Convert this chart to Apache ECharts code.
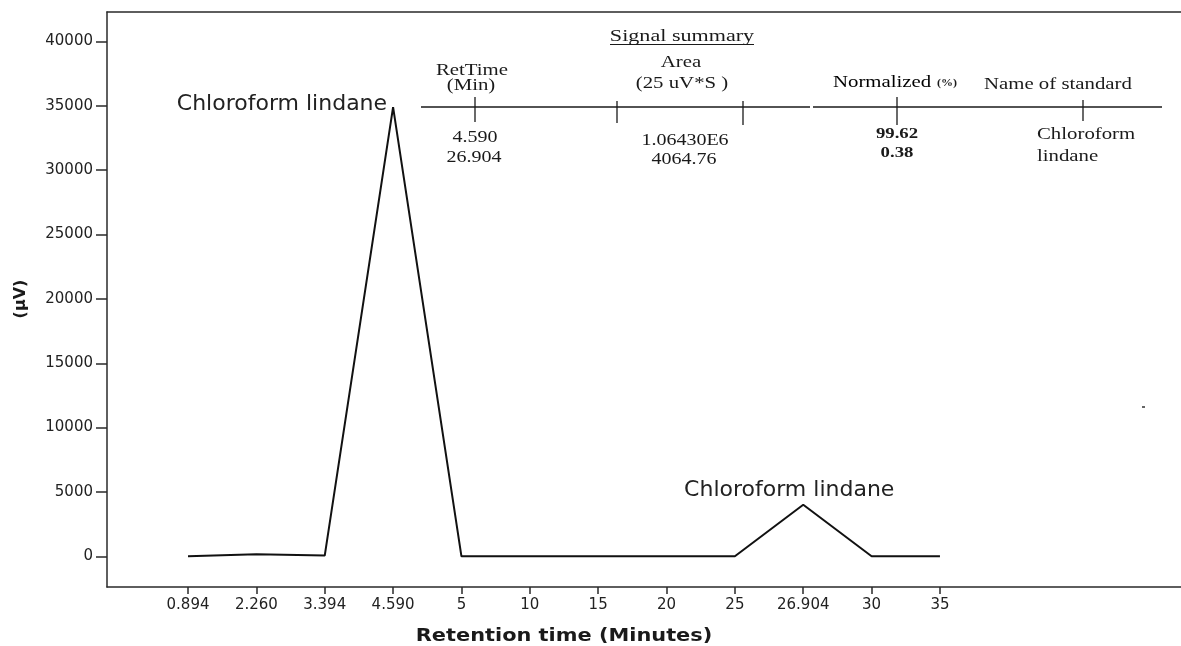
<!DOCTYPE html>
<html>
<head>
    <meta charset="utf-8">
    <title>Signal summary chromatogram</title>
    <script src="https://cdn.jsdelivr.net/npm/echarts@6/dist/echarts.min.js"></script>
    <style>
        html, body { margin: 0; padding: 0; background: #fff; }
        #main { width: 1181px; height: 646px; }
    </style>
</head>
<body>
    <div id="main"></div>
    <script type="text/javascript">
        // retention time categories on the x axis
        var timeLabels = ['0.894', '2.260', '3.394', '4.590', '5', '10', '15', '20', '25', '26.904', '30', '35'];
        // detector signal (uV) at each category
        var signal = [0, 150, 60, 34900, 0, 0, 0, 0, 0, 4000, 0, 0];
        var yTicks = [0, 5000, 10000, 15000, 20000, 25000, 30000, 35000, 40000];
        var peakName = 'Chloroform lindane';
        var peakIdx = [3, 9];

        // signal summary table
        var retTimes = ['4.590', '26.904'];
        var areas = ['1.06430E6', '4064.76'];
        var normalized = ['99.62', '0.38'];
        var standardName = ['Chloroform', 'lindane'];

        var xTicks = timeLabels.map(function (l, i) { return i; });

        var SANS = '"DejaVu Sans", Verdana, sans-serif';
        var SERIF = '"Liberation Serif", "Times New Roman", serif';
        var INK = '#1a1a1a';
        var AXIS = '#2a2a2a';

        function serifText(x, y, str, size, opts) {
            opts = opts || {};
            return {
                type: 'text',
                x: x,
                y: y,
                scaleX: opts.scaleX || 1.3,
                style: {
                    text: str,
                    fontFamily: SERIF,
                    fontSize: size,
                    fontWeight: opts.bold ? 'bold' : 'normal',
                    fill: opts.fill || INK,
                    align: opts.align || 'center',
                    textAlign: opts.align || 'center',
                    verticalAlign: 'middle',
                    textVerticalAlign: 'middle'
                }
            };
        }

        function seg(x1, y1, x2, y2, w) {
            return {
                type: 'line',
                shape: { x1: x1, y1: y1, x2: x2, y2: y2 },
                style: { stroke: INK, lineWidth: w || 1.3 }
            };
        }

        var graphics = [
            // table header
            serifText(682, 37, 'Signal summary', 17),
            seg(610, 44.5, 754, 44.5, 1),
            serifText(472, 71, 'RetTime', 16),
            serifText(471, 86, '(Min)', 16),
            serifText(681, 63, 'Area', 16),
            serifText(682, 84, '(25 uV*S )', 16),
            serifText(833, 83, 'Normalized', 16, { align: 'left', scaleX: 1.3, fill: '#000' }),
            serifText(937, 83, '(%)', 10, { align: 'left', scaleX: 1.2, bold: true }),
            serifText(984, 85, 'Name of standard', 16, { align: 'left', scaleX: 1.3 }),
            // table rules
            seg(421, 107, 810, 107),
            seg(813, 107, 1162, 107),
            seg(475, 97, 475, 122),
            seg(617, 101, 617, 123),
            seg(743, 101, 743, 125),
            seg(897, 97, 897, 125),
            seg(1083, 100, 1083, 121),
            // table body
            serifText(475, 138, retTimes[0], 16, { scaleX: 1.25 }),
            serifText(474, 158, retTimes[1], 16, { scaleX: 1.25 }),
            serifText(685, 141, areas[0], 16, { scaleX: 1.25 }),
            serifText(684, 160, areas[1], 16, { scaleX: 1.25 }),
            serifText(897, 134, normalized[0], 15, { scaleX: 1.25, bold: true }),
            serifText(897, 153, normalized[1], 15, { scaleX: 1.25, bold: true }),
            serifText(1037, 135, standardName[0], 16, { align: 'left', scaleX: 1.3 }),
            serifText(1037, 157, standardName[1], 16, { align: 'left', scaleX: 1.3 }),
            // axis titles
            {
                type: 'text',
                x: 564, y: 636,
                scaleX: 1.16,
                style: {
                    text: 'Retention time (Minutes)',
                    fontFamily: SANS,
                    fontWeight: 'bold',
                    fontSize: 18,
                    fill: INK,
                    align: 'center', textAlign: 'center',
                    verticalAlign: 'middle', textVerticalAlign: 'middle'
                }
            },
            {
                type: 'text',
                x: 21, y: 299,
                rotation: Math.PI / 2,
                style: {
                    text: '(\u00b5V)',
                    fontFamily: SANS,
                    fontWeight: 'bold',
                    fontSize: 16,
                    fill: INK,
                    align: 'center', textAlign: 'center',
                    verticalAlign: 'middle', textVerticalAlign: 'middle'
                }
            },
            // stray speck in the original image
            { type: 'rect', shape: { x: 1142, y: 406, width: 3, height: 2 }, style: { fill: '#666' } }
        ];

        var peakLabels = [
            { position: 'left', distance: 6, offset: [0, -3] },
            { position: 'top', distance: 4, offset: [-14, 0] }
        ];

        var xMin = -1.185, xMax = 14.526;

        var myChart = echarts.init(document.getElementById('main'));

        var option = {
            animation: false,
            backgroundColor: '#fff',
            grid: {
                left: 107,
                top: 12,
                right: 0,
                bottom: 59
            },
            xAxis: [{
                type: 'value',
                min: xMin,
                max: xMax,
                splitLine: { show: false },
                axisLine: { show: true, onZero: false, lineStyle: { color: AXIS, width: 1.5 } },
                axisTick: {
                    show: true,
                    length: 7,
                    customValues: xTicks,
                    lineStyle: { color: AXIS, width: 1.5 }
                },
                axisLabel: {
                    customValues: xTicks,
                    margin: 11,
                    fontFamily: SANS,
                    fontSize: 15,
                    color: '#222',
                    formatter: function (v) { return timeLabels[Math.round(v)]; }
                }
            }, {
                // top frame line only
                type: 'value',
                position: 'top',
                min: xMin,
                max: xMax,
                splitLine: { show: false },
                axisLine: { show: true, onZero: false, lineStyle: { color: AXIS, width: 1.5 } },
                axisTick: { show: false },
                axisLabel: { show: false }
            }],
            yAxis: {
                type: 'value',
                min: -2385,
                max: 42292,
                splitLine: { show: false },
                axisLine: { show: true, onZero: false, lineStyle: { color: AXIS, width: 1.5 } },
                axisTick: {
                    show: true,
                    length: 11,
                    customValues: yTicks,
                    lineStyle: { color: AXIS, width: 1.5 }
                },
                axisLabel: {
                    customValues: yTicks,
                    margin: 14,
                    fontFamily: SANS,
                    fontSize: 15,
                    color: '#222',
                    formatter: function (v) { return String(Math.round(v)); }
                }
            },
            series: [{
                type: 'line',
                xAxisIndex: 0,
                data: signal.map(function (v, i) { return [i, v]; }),
                showSymbol: false,
                symbol: 'none',
                lineStyle: { color: '#111', width: 2 },
                markPoint: {
                    symbol: 'circle',
                    symbolSize: 0,
                    silent: true,
                    data: peakIdx.map(function (idx, k) {
                        return {
                            coord: [idx, signal[idx]],
                            label: {
                                show: true,
                                formatter: peakName,
                                position: peakLabels[k].position,
                                distance: peakLabels[k].distance,
                                offset: peakLabels[k].offset,
                                fontFamily: SANS,
                                fontSize: 22,
                                color: '#222'
                            }
                        };
                    })
                }
            }],
            graphic: graphics
        };

        myChart.setOption(option);
    </script>
</body>
</html>
